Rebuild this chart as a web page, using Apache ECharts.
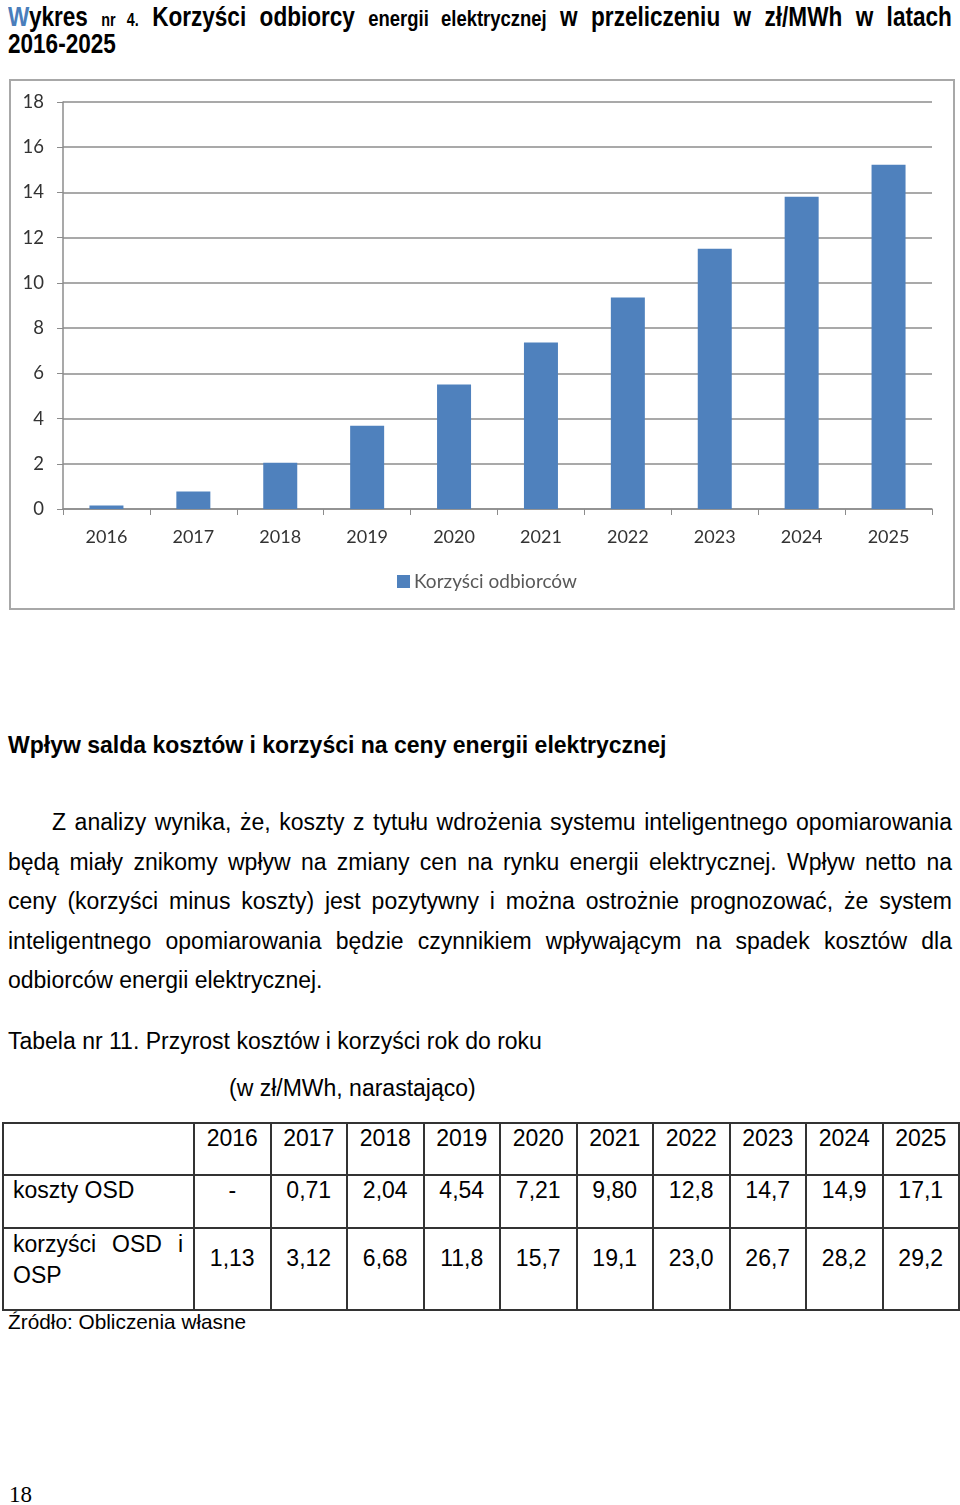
<!DOCTYPE html>
<html>
<head>
<meta charset="utf-8">
<script src="https://cdn.jsdelivr.net/npm/echarts@6/dist/echarts.min.js"></script>
<style>
  html, body { margin: 0; padding: 0; background: #fff; }
  body { width: 960px; height: 1505px; position: relative; overflow: hidden; font-family: 'Liberation Sans', Arial, sans-serif; color: #000; }
  .abs { position: absolute; }
  .title { font-family: 'Liberation Sans', Arial, sans-serif; font-weight: bold; font-size: 27.5px; line-height: 27px; left: 8px; width: 1151px; transform: scaleX(0.82); transform-origin: 0 0; }
  .title > div { height: 27px; overflow: visible; }
  .title .s1 { font-size: 17.5px; line-height: 10px; }
  .title .s2 { font-size: 22.5px; line-height: 10px; }
  .title .w { color: #4a7ebb; }
  .jl { text-align: justify; text-align-last: justify; white-space: nowrap; }
  .body { font-size: 23px; left: 8px; width: 944px; line-height: 39.5px; }
  #frame { left: 9px; top: 79px; width: 946px; height: 531px; border: 2px solid #a8a8a8; box-sizing: border-box; }
  #chart { left: 11px; top: 81px; width: 942px; height: 527px; }
  table { border-collapse: collapse; table-layout: fixed; font-size: 23px; }
  td { border: 2px solid #333; padding: 0; vertical-align: top; text-align: center; }
</style>
</head>
<body>
<div class="abs title" style="top:3px;">
  <div class="jl"><span class="w">W</span>ykres <span class="s1">nr 4.</span> Korzyści odbiorcy <span class="s2">energii elektrycznej</span> w przeliczeniu w zł/MWh w latach</div>
  <div>2016-2025</div>
</div>
<div id="frame" class="abs"></div>
<div id="chart" class="abs"></div>

<div class="abs" style="left:8px; top:731px; font-size:23px; font-weight:bold; line-height:28px;">Wpływ salda kosztów i korzyści na ceny energii elektrycznej</div>

<div class="abs body" style="top:803px;">
  <div class="jl" style="padding-left:44px;">Z analizy wynika, że, koszty z tytułu wdrożenia systemu inteligentnego opomiarowania</div>
  <div class="jl">będą miały znikomy wpływ na zmiany cen na rynku energii elektrycznej. Wpływ netto na</div>
  <div class="jl">ceny (korzyści minus koszty) jest pozytywny i można ostrożnie prognozować, że system</div>
  <div class="jl">inteligentnego opomiarowania będzie czynnikiem wpływającym na spadek kosztów dla</div>
  <div>odbiorców energii elektrycznej.</div>
</div>

<div class="abs" style="left:8px; top:1028px; font-size:23px; line-height:26px;">Tabela nr 11. Przyrost kosztów i korzyści rok do roku</div>
<div class="abs" style="left:229px; top:1075px; font-size:23px; line-height:26px;">(w zł/MWh, narastająco)</div>

<div id="tbl" class="abs" style="left:2px; top:1122px;"></div>

<div class="abs" style="left:8px; top:1309px; font-size:20.8px; line-height:26px;">Źródło: Obliczenia własne</div>
<div class="abs" style="left:9px; top:1481px; font-family:'Liberation Serif','Times New Roman',serif; font-size:23px; line-height:28px;">18</div>

<script>
// ---- chart data ----
const categories = ['2016','2017','2018','2019','2020','2021','2022','2023','2024','2025'];
const seriesName = 'Korzyści odbiorców';
const benefitValues = [0.15, 0.77, 2.05, 3.68, 5.51, 7.36, 9.35, 11.51, 13.81, 15.23];
const yTicks = [0, 2, 4, 6, 8, 10, 12, 14, 16, 18];

// ---- table data ----
const tableYears = ['2016','2017','2018','2019','2020','2021','2022','2023','2024','2025'];
const rowLabelCosts = 'koszty OSD';
const costsOSD = ['-','0,71','2,04','4,54','7,21','9,80','12,8','14,7','14,9','17,1'];
const rowLabelBenefits = ['korzyści OSD i', 'OSP'];
const benefitsOSDOSP = ['1,13','3,12','6,68','11,8','15,7','19,1','23,0','26,7','28,2','29,2'];

// build table
(function () {
  const t = document.createElement('table');
  t.style.width = '956px';
  const cg = document.createElement('colgroup');
  const c0 = document.createElement('col'); c0.style.width = '191px'; cg.appendChild(c0);
  tableYears.forEach(() => { const c = document.createElement('col'); c.style.width = '76.5px'; cg.appendChild(c); });
  t.appendChild(cg);
  function row(h, labelHtml, vals, labelStyle, valPad) {
    const tr = document.createElement('tr');
    tr.style.height = h + 'px';
    const th = document.createElement('td');
    th.style.textAlign = 'left';
    th.innerHTML = labelHtml;
    Object.assign(th.style, labelStyle);
    tr.appendChild(th);
    vals.forEach(v => {
      const td = document.createElement('td');
      td.textContent = v;
      td.style.paddingTop = valPad + 'px';
      td.style.lineHeight = '24px';
      tr.appendChild(td);
    });
    t.appendChild(tr);
  }
  row(52, '', tableYears, {}, 2);
  row(53, rowLabelCosts, costsOSD, { paddingLeft: '9px', paddingTop: '2px', lineHeight: '24px' }, 2);
  row(82, '<div class="jl" style="padding-right:10px">' + rowLabelBenefits[0] + '</div><div>' + rowLabelBenefits[1] + '</div>',
      benefitsOSDOSP, { paddingLeft: '9px', paddingTop: '0px', lineHeight: '31px' }, 17);
  document.getElementById('tbl').appendChild(t);
})();

// chart
const chart = echarts.init(document.getElementById('chart'), null, { renderer: 'canvas', width: 942, height: 527 });
const lblFont = 'Lato, "Open Sans", sans-serif';
chart.setOption({
  animation: false,
  backgroundColor: '#fff',
  grid: { left: 52, top: 21, width: 869, height: 407, containLabel: false },
  legend: {
    data: [seriesName],
    left: 381,
    top: 486,
    itemWidth: 13,
    itemHeight: 13,
    itemGap: 10,
    icon: 'rect',
    textStyle: { fontFamily: lblFont, fontSize: 19, color: '#595959', padding: [0, 0, 0, -1] }
  },
  xAxis: {
    type: 'category',
    data: categories,
    boundaryGap: true,
    axisLine: { lineStyle: { color: '#8c8c8c', width: 1.5 } },
    axisTick: { show: true, alignWithLabel: false, length: 6, lineStyle: { color: '#8c8c8c', width: 1 } },
    axisLabel: { margin: 19, fontFamily: lblFont, fontSize: 18, color: '#333' }
  },
  yAxis: {
    type: 'value',
    min: 0,
    max: 18,
    interval: 2,
    axisLine: { show: true, lineStyle: { color: '#8c8c8c', width: 1.5 } },
    axisTick: { show: true, length: 6, lineStyle: { color: '#8c8c8c', width: 1 } },
    axisLabel: { margin: 19, fontFamily: lblFont, fontSize: 18.5, color: '#333',
      formatter: v => yTicks.includes(v) ? String(v) : '' },
    splitLine: { lineStyle: { color: '#8c8c8c', width: 1.5 } }
  },
  series: [{
    name: seriesName,
    type: 'bar',
    data: benefitValues,
    barWidth: 34,
    itemStyle: { color: '#4f81bd' }
  }]
});
</script>
</body>
</html>
